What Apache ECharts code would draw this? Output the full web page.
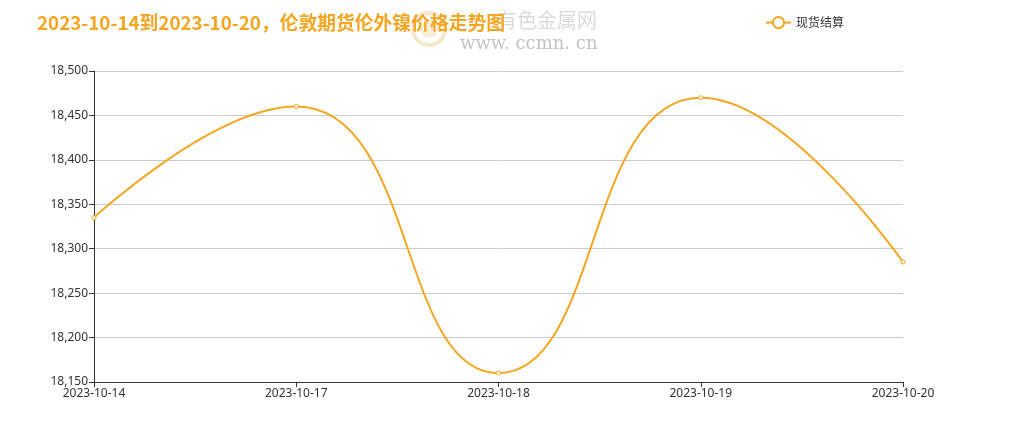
<!DOCTYPE html>
<html><head><meta charset="utf-8">
<script src="https://cdn.jsdelivr.net/npm/echarts@6/dist/echarts.min.js"></script>
<style>html,body{margin:0;padding:0;background:#fff}#c{width:1011px;height:437px}</style>
</head><body><div id="c"></div>
<script>
const titleText = '2023-10-14到2023-10-20，伦敦期货伦外镍价格走势图';
const seriesName = '现货结算';
const categories = ['2023-10-14','2023-10-17','2023-10-18','2023-10-19','2023-10-20'];
const values = [18335, 18460, 18160, 18470, 18285];

const chart = echarts.init(document.getElementById('c'), null, {renderer:'canvas'});
chart.setOption({
  animation:false,
  backgroundColor:'#fff',
  title:{text:titleText,left:32,top:8,textStyle:{color:'#f5a623',fontSize:18.8,fontWeight:'bold',fontFamily:'"Noto Sans CJK SC", sans-serif'}},
  graphic:[
    {type:'circle',shape:{cx:429,cy:29,r:16},style:{fill:'none',stroke:'rgba(230,205,145,0.45)',lineWidth:4},z:-1},
    {type:'circle',shape:{cx:429,cy:29,r:9},style:{fill:'rgba(230,205,145,0.35)'},z:-1},
    {type:'text',left:497,top:10,style:{text:'有色金属网',fill:'rgba(195,195,195,0.6)',font:'20px "Noto Sans CJK SC", sans-serif'},z:-1},
    {type:'text',left:460,top:35,style:{text:'www. ccmn. cn',fill:'rgba(175,175,175,0.75)',font:'18px "DejaVu Serif", serif'},z:-1}
  ],
  legend:{data:[seriesName],left:760,top:11,itemWidth:25,itemHeight:14,textStyle:{color:'#333',fontSize:12,fontFamily:'"Noto Sans CJK SC", sans-serif'}},
  grid:{left:94,right:108,top:71,bottom:55,containLabel:false},
  xAxis:{type:'category',data:categories,boundaryGap:false,
    axisLine:{lineStyle:{color:'#333'}},axisTick:{show:true,lineStyle:{color:'#333'}},
    axisLabel:{color:'#333',fontSize:12,margin:6,fontFamily:'"Noto Sans", sans-serif'}},
  yAxis:{type:'value',min:18150,max:18500,interval:50,
    axisLine:{show:true,lineStyle:{color:'#333'}},axisTick:{show:true,lineStyle:{color:'#333'}},
    splitLine:{lineStyle:{color:'#ccc'}},
    axisLabel:{color:'#333',fontSize:12,margin:6,fontFamily:'"Noto Sans", sans-serif',
      formatter:v=>v.toLocaleString('en-US')}},
  series:[{name:seriesName,type:'line',data:values,smooth:true,
    symbol:'circle',symbolSize:4,
    itemStyle:{color:'#fff',borderColor:'#f5a623',borderWidth:1},
    lineStyle:{color:'#f5a623',width:2}}],
  color:['#f5a623']
});
</script></body></html>
